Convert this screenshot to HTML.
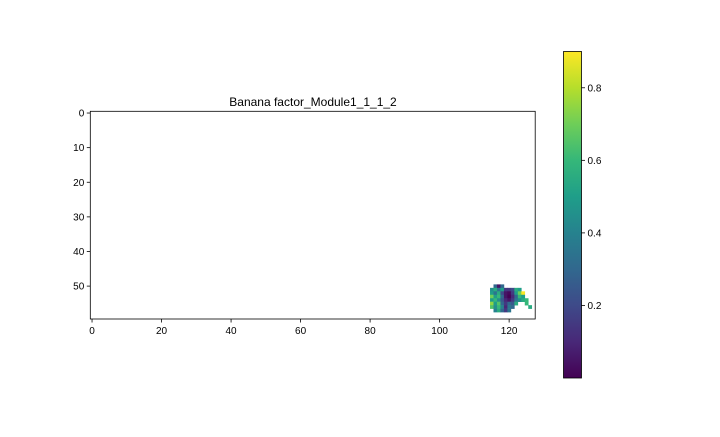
<!DOCTYPE html>
<html><head><meta charset="utf-8"><style>
body{margin:0;background:#fff;}
text{font-family:"Liberation Sans","DejaVu Sans",sans-serif;}
</style></head><body>
<svg id="chart" width="720" height="432" xmlns="http://www.w3.org/2000/svg">
<defs><linearGradient id="vir" x1="0" y1="1" x2="0" y2="0"></linearGradient></defs>
<rect width="720" height="432" fill="#fff"/>
<g id="plot"></g>
<text x="313" y="106" text-anchor="middle" font-size="12">Banana factor_Module1_1_1_2</text>
</svg>
<script>
const nCols = 128, nRows = 60;
const colStart = 115, rowStart = 50;
const N = null;
const rows = [
 [N,0.3,0.05,0.3,N,N,N,N,N,N,N,N],
 [0.45,0.55,0.35,0.5,0.15,0.15,0.2,0.55,0.5,N,N,N],
 [0.5,0.35,0.55,0.2,0.05,0.02,0.15,0.5,0.7,0.9,N,N],
 [0.7,0.5,0.6,0.3,0.05,0.0,0.1,0.3,0.6,0.5,N,N],
 [0.5,0.6,0.45,0.25,0.1,0.05,0.15,0.35,0.45,0.55,0.6,N],
 [0.75,0.5,0.65,0.3,0.15,0.3,0.25,0.55,N,N,0.6,N],
 [0.65,0.45,0.6,0.4,0.1,0.35,0.3,N,N,N,N,0.55],
 [N,0.4,0.55,0.3,0.15,0.35,N,N,N,N,N,N]
];
const xTicks = [0,20,40,60,80,100,120];
const yTicks = [0,10,20,30,40,50];
const cbTicks = [0.2,0.4,0.6,0.8];
const vmin = 0, vmax = 0.9;

const ax = {l:90.3, r:535.2, t:111.3, b:319};
const cw = (ax.r-ax.l)/nCols, ch = (ax.b-ax.t)/nRows;
const xs = v => ax.l + (v+0.5)*cw;
const ys = v => ax.t + (v+0.5)*ch;
const cb = {l:563.5, r:581.5, t:51.5, b:378};
const cbY = v => cb.b - (v-vmin)/(vmax-vmin)*(cb.b-cb.t);

const vir = [[68,1,84],[72,40,120],[62,74,137],[49,104,142],[38,130,142],[31,158,137],[53,183,121],[110,206,88],[181,222,43],[253,231,37]];
function color(v){
  let t=Math.max(0,Math.min(1,(v-vmin)/(vmax-vmin)))*(vir.length-1);
  let i=Math.min(vir.length-2,Math.floor(t)), f=t-i;
  const c=vir[i].map((a,k)=>Math.round(a+(vir[i+1][k]-a)*f));
  return `rgb(${c})`;
}
const NS="http://www.w3.org/2000/svg";
const g=document.getElementById('plot');
function mk(tag,attrs,parent){const e=document.createElementNS(NS,tag);for(const k in attrs)e.setAttribute(k,attrs[k]);(parent||g).appendChild(e);return e;}

rows.forEach((row,ri)=>row.forEach((v,ci)=>{
  if(v===null)return;
  const c=colStart+ci, r=rowStart+ri;
  const e=mk('rect',{x:xs(c)-cw/2,y:ys(r)-ch/2,width:cw+0.3,height:ch+0.3,fill:color(v)});
  
  
}));
const frame=mk('rect',{x:ax.l,y:ax.t,width:ax.r-ax.l,height:ax.b-ax.t,fill:'none',stroke:'#000','stroke-width':0.8});


xTicks.forEach(v=>{
  const x=xs(v);
  mk('line',{x1:x,x2:x,y1:ax.b,y2:ax.b+3.5,stroke:'#000','stroke-width':0.8});
  const t=mk('text',{x:x,y:ax.b+15,'text-anchor':'middle','font-size':10});
  t.textContent=v;
  
  
});
yTicks.forEach(v=>{
  const y=ys(v);
  mk('line',{x1:ax.l-3.5,x2:ax.l,y1:y,y2:y,stroke:'#000','stroke-width':0.8});
  const t=mk('text',{x:ax.l-6,y:y+3.5,'text-anchor':'end','font-size':10});
  t.textContent=v;
  
  
});
// colorbar
const grad=document.getElementById('vir');
vir.forEach((c,i)=>mk('stop',{offset:i/(vir.length-1),'stop-color':`rgb(${c})`},grad));
const cbr=mk('rect',{x:cb.l,y:cb.t,width:cb.r-cb.l,height:cb.b-cb.t,fill:'url(#vir)',stroke:'#000','stroke-width':0.8});


cbTicks.forEach(v=>{
  const y=cbY(v);
  mk('line',{x1:cb.r,x2:cb.r+3.5,y1:y,y2:y,stroke:'#000','stroke-width':0.8});
  const t=mk('text',{x:cb.r+6,y:y+3.5,'font-size':10});
  t.textContent=v.toFixed(1);
  
  
});
</script>
</body></html>
